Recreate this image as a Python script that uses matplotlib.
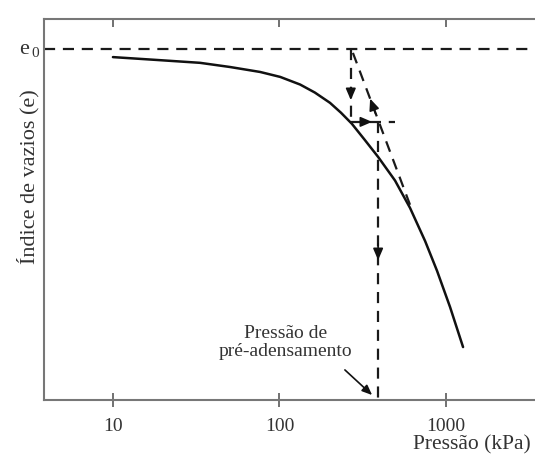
import numpy as np
import matplotlib.pyplot as plt

plt.rcParams['font.family'] = ['Liberation Serif', 'DejaVu Serif']

# curva e x log(p)
pressao = [10, 19.1, 33.3, 50.5, 76.5, 101, 133, 163, 201, 234, 272, 326, 391, 494, 608, 749, 883, 1057, 1265]
indice = [1.200, 1.192, 1.185, 1.174, 1.161, 1.148, 1.128, 1.107, 1.080, 1.054, 1.025, 0.982,
          0.938, 0.876, 0.804, 0.717, 0.639, 0.544, 0.439]

e0 = 1.22
p_curv = 268      # ponto de maior curvatura
e_curv = 1.030
p_hor_fim = 494
p_pre = 391       # pressao de pre-adensamento
tang_p = [276, 608]
tang_e = [1.211, 0.812]

fig = plt.figure(figsize=(5.35, 4.59), dpi=100)
ax = fig.add_axes([0.0822, 0.1285, 0.9178, 0.8301])
ax.set_xscale('log')
ax.set_xlim(3.855, 3420)
ax.set_ylim(0.3, 1.3)

ax.plot(pressao, indice, color='#111111', lw=1.8, solid_capstyle='round', solid_joinstyle='round')

dash = dict(color='#1a1a1a', lw=1.6, dashes=(5, 3.5))
ax.plot([3.855, 3420], [e0, e0], **dash)
ax.plot([p_curv, p_curv], [e0, e_curv], **dash)
ax.plot([p_curv, p_hor_fim], [e_curv, e_curv], **dash)
ax.plot(tang_p, tang_e, **dash)
ax.plot([p_pre, p_pre], [e_curv, 0.287], clip_on=False, **dash)

seta = dict(arrowstyle='-|>,head_length=0.7,head_width=0.3', color='#111111',
            lw=1.2, shrinkA=0, shrinkB=0)
ax.annotate('', xy=(p_curv, 1.087), xytext=(p_curv, 1.12), arrowprops=seta)
ax.annotate('', xy=(360, e_curv), xytext=(320, e_curv), arrowprops=seta)
ax.annotate('', xy=(350, 1.091), xytext=(378, 1.051), arrowprops=seta)
ax.annotate('', xy=(p_pre, 0.667), xytext=(p_pre, 0.71), arrowprops=seta)

ax.text(109, 0.405, 'Pressão de\npré-adensamento', ha='center', va='bottom',
        fontsize=14, color='#333333', linespacing=1.1)
ax.annotate('', xy=(360, 0.313), xytext=(247, 0.379),
            arrowprops=dict(arrowstyle='-|>,head_length=0.6,head_width=0.25',
                            color='#111111', lw=1.2, shrinkA=0, shrinkB=0))

# rotulo e0
ax.text(-0.030, e0, 'e', transform=ax.get_yaxis_transform(), ha='right', va='center',
        fontsize=16, color='#333333')
ax.text(-0.011, e0 - 0.010, '0', transform=ax.get_yaxis_transform(), ha='right',
        va='center', fontsize=11, color='#333333')

ax.set_xticks([10, 100, 1000])
ax.set_xticklabels(['10', '100', '1000'])
ax.minorticks_off()
ax.set_yticks([])
ax.tick_params(axis='x', which='major', direction='inout', length=10, width=1.3,
               color='#666666', labelsize=14, labelcolor='#333333', pad=8)
sec = ax.secondary_xaxis('top')
sec.set_xticks([10, 100, 1000])
sec.set_xticklabels([])
sec.minorticks_off()
sec.tick_params(direction='in', length=6, width=1.3, color='#666666')
sec.spines['top'].set_visible(False)

for s in ['left', 'bottom', 'top']:
    ax.spines[s].set_color('#777777')
    ax.spines[s].set_linewidth(1.5)
ax.spines['right'].set_visible(False)

ax.set_xlabel('Pressão (kPa)', fontsize=15.5, color='#333333')
ax.xaxis.set_label_coords(0.872, -0.092)
ax.set_ylabel('Índice de vazios (e)', fontsize=16, color='#333333')
ax.yaxis.set_label_coords(-0.010, 0.585)

fig.savefig('out.png', dpi=100)
